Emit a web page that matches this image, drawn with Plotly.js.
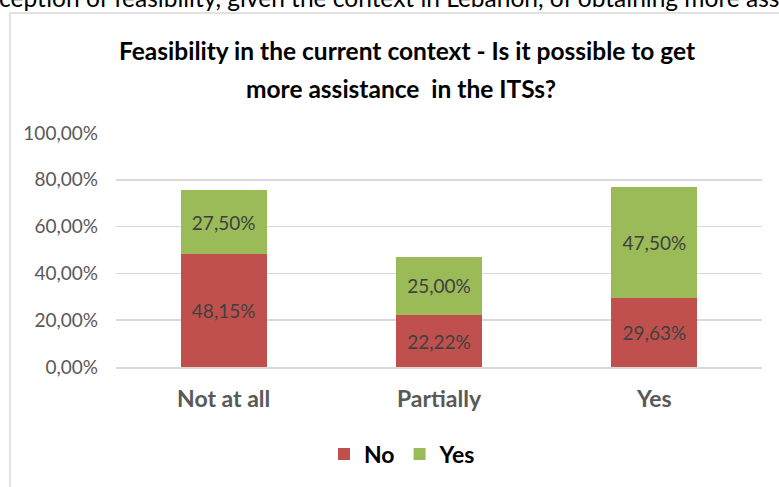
<!DOCTYPE html>
<html>
<head>
<meta charset="utf-8">
<script src="https://cdn.plot.ly/plotly-3.0.1.min.js"></script>
<style>html,body{margin:0;padding:0;background:#fff;overflow:hidden}</style>
</head>
<body>
<div id="chart" style="width:779px;height:487px"></div>
<script>
const categories = ["Not at all", "Partially", "Yes"];
const noValues = [48.15, 22.22, 29.63];
const yesValues = [27.50, 25.00, 47.50];
const seriesNames = ["No", "Yes"];
const chartTitle1 = "Feasibility in the current context - Is it possible to get";
const chartTitle2 = "more assistance  in the ITSs?";
const topText = "ception of feasibility, given the context in Lebanon, of obtaining more ass";

const FONT = "Lato, 'Open Sans', sans-serif";
const L = 116, R = 17, T = 133, B = 120, W = 779, H = 487;
const pw = W - L - R, ph = H - T - B;
const px = x => (x - L) / pw;
const py = y => (H - B - y) / ph;

const labelFont = {family: FONT, size: 19, color: "#404040"};

const traces = [
  {type: "bar", name: seriesNames[0], x: categories, y: noValues,
   marker: {color: "#C0504D"}, width: 0.4,
   texttemplate: "%{y:.2f}%", textposition: "inside", insidetextanchor: "middle",
   textfont: labelFont, hoverinfo: "skip"},
  {type: "bar", name: seriesNames[1], x: categories, y: yesValues,
   marker: {color: "#9BBB59"}, width: 0.4,
   texttemplate: "%{y:.2f}%", textposition: "inside", insidetextanchor: "middle",
   textfont: labelFont, hoverinfo: "skip"}
];

const layout = {
  width: W, height: H, autosize: false,
  margin: {l: L, r: R, t: T, b: B, pad: 0},
  paper_bgcolor: "#ffffff", plot_bgcolor: "#ffffff",
  barmode: "stack",
  separators: ", ",
  font: {family: FONT},
  showlegend: true,
  legend: {orientation: "h", x: px(324), xanchor: "left", y: py(454), yanchor: "middle",
           font: {family: FONT, size: 23, color: "#000000", weight: 700},
           traceorder: "normal", itemwidth: 30},
  xaxis: {type: "category", showgrid: false, zeroline: false, showline: true,
          linecolor: "#D9D9D9", linewidth: 1.5, ticks: "",
          tickfont: {family: FONT, size: 23, color: "#595959", weight: 700},
          ticklabelstandoff: 11},
  yaxis: {range: [0, 100], dtick: 20, tick0: 0, tickformat: ".2f", ticksuffix: "%",
          showgrid: true, gridcolor: "#D9D9D9", gridwidth: 1.5, zeroline: false,
          showline: false, ticks: "",
          tickfont: {family: FONT, size: 19, color: "#595959"},
          ticklabelstandoff: 17},
  shapes: [
    {type: "rect", xref: "paper", yref: "paper", x0: px(10), x1: px(820), y0: py(540), y1: py(13),
     line: {color: "#D9D9D9", width: 1.5}, fillcolor: "rgba(0,0,0,0)", layer: "below"}
  ],
  annotations: [
    {xref: "paper", yref: "paper", x: px(407), y: py(51), xanchor: "center", yanchor: "middle",
     text: chartTitle1, showarrow: false, font: {family: FONT, size: 24.5, color: "#000000", weight: 700}},
    {xref: "paper", yref: "paper", x: px(401), y: py(88), xanchor: "center", yanchor: "middle",
     text: chartTitle2, showarrow: false, font: {family: FONT, size: 24.5, color: "#000000", weight: 700}},
    {xref: "paper", yref: "paper", x: px(-3), y: py(14), xanchor: "left", yanchor: "bottom",
     text: topText, showarrow: false, font: {family: FONT, size: 24.5, color: "#000000"}}
  ]
};

Plotly.newPlot("chart", traces, layout, {displayModeBar: false, staticPlot: true});
</script>
</body>
</html>
